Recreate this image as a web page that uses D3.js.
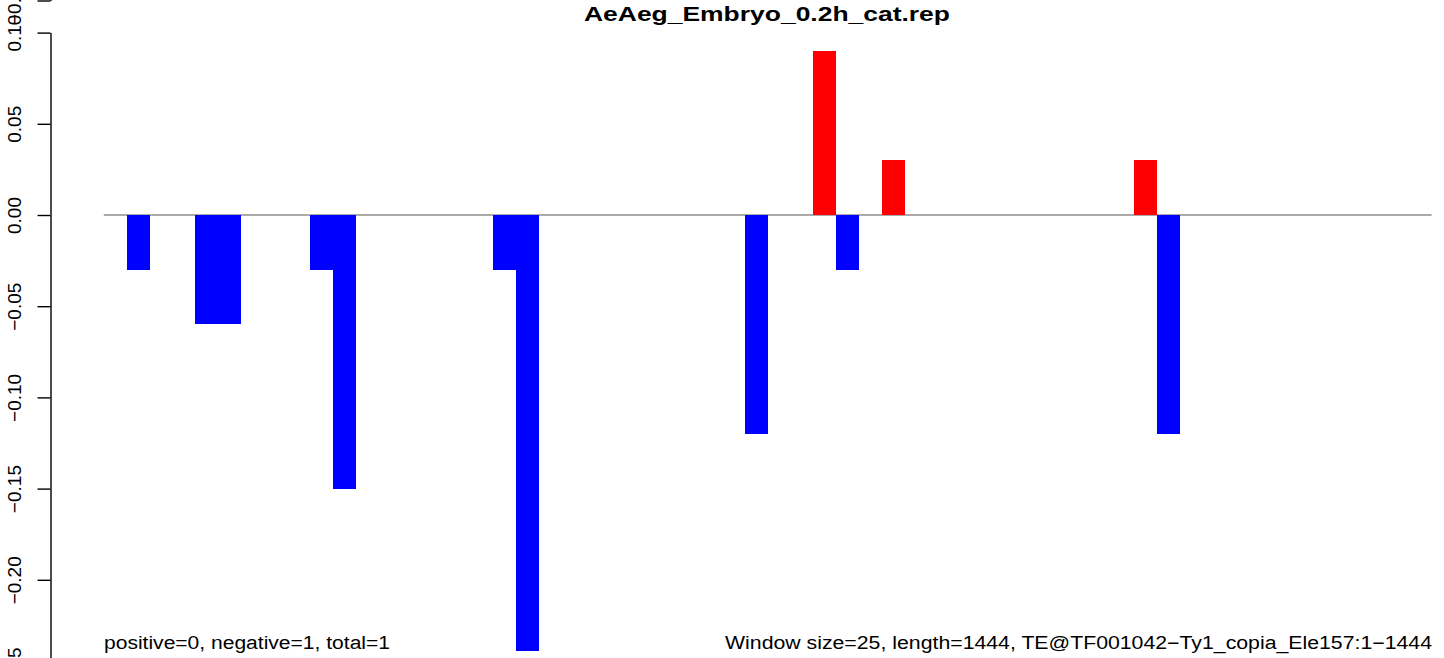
<!DOCTYPE html>
<html>
<head>
<meta charset="utf-8">
<script src="https://cdn.jsdelivr.net/npm/d3@7"></script>
<style>
  html, body { margin: 0; padding: 0; background: #fff; }
  svg { display: block; }
  text { font-family: "Liberation Sans", Arial, sans-serif; }
</style>
</head>
<body>
<svg id="chart" width="1444" height="658"></svg>
<script>
// ---- data ----
const windowStarts = [25, 100, 125, 225, 250, 425, 450, 700, 775, 800, 850, 1125, 1150];
const values       = [-0.03, -0.06, -0.06, -0.03, -0.15, -0.03, -0.239, -0.12, 0.09, -0.03, 0.03, 0.03, -0.12];
const windowSize = 25;
const seqLength = 1450;
const yTickValues = [0.10, 0.05, 0.00, -0.05, -0.10, -0.15, -0.20, -0.25];
const yTickLabels = ["0.10", "0.05", "0.00", "\u22120.05", "\u22120.10", "\u22120.15", "\u22120.20", "\u22120.25"];
const prevTickValues = [-0.25];
const prevTickLabels = ["\u22120.25"];
const titleText = "AeAeg_Embryo_0.2h_cat.rep";
const leftNote = "positive=0, negative=1, total=1";
const rightNote = "Window size=25, length=1444, TE@TF001042\u2212Ty1_copia_Ele157:1\u22121444";

// ---- layout ----
const svg = d3.select("#chart");
const x = d3.scaleLinear().domain([0, seqLength]).range([103.8, 1431.6]);
const y = d3.scaleLinear().domain([-0.25, 0.10]).range([671, 32.6]);
// fragment of the panel above (only its lowest tick shows)
const yPrev = d3.scaleLinear().domain([-0.25, 0.10]).range([0.5, 0.5 - 638.4]);

// baseline
svg.append("line")
  .attr("x1", x(0)).attr("x2", x(seqLength))
  .attr("y1", y(0)).attr("y2", y(0))
  .attr("stroke", "#8f8f8f").attr("stroke-width", 1.4);

// bars
const data = windowStarts.map((s, i) => ({ s, v: values[i] }));
svg.append("g").selectAll("rect").data(data).join("rect")
  .attr("x", d => x(d.s))
  .attr("width", d => x(d.s + windowSize) - x(d.s))
  .attr("y", d => d.v >= 0 ? y(d.v) : y(0))
  .attr("height", d => Math.abs(y(d.v) - y(0)))
  .attr("fill", d => d.v >= 0 ? "#ff0000" : "#0000ff")
  .attr("shape-rendering", "crispEdges");

// axes
function drawAxis(scale, tickVals, tickLabs) {
  const ax = d3.axisLeft(scale)
    .tickValues(tickVals)
    .tickFormat((d, i) => tickLabs[i])
    .tickSize(13)
    .tickSizeOuter(0);
  const g = svg.append("g").attr("transform", "translate(50.5,0)").call(ax);
  g.select(".domain").attr("stroke", "#000").attr("stroke-width", 1.4);
  g.selectAll(".tick line").attr("stroke", "#000").attr("stroke-width", 1.4);
  g.selectAll(".tick text")
    .attr("x", null).attr("dy", null)
    .attr("font-size", 19)
    .attr("fill", "#000")
    .attr("text-anchor", "middle")
    .attr("transform", "translate(-29.5,0) rotate(-90)");
  return g;
}
drawAxis(y, yTickValues, yTickLabels);
drawAxis(yPrev, prevTickValues, prevTickLabels);

// title
svg.append("text")
  .attr("x", 767).attr("y", 21)
  .attr("text-anchor", "middle")
  .attr("font-weight", "bold")
  .attr("font-size", 21)
  .attr("textLength", 366)
  .attr("lengthAdjust", "spacingAndGlyphs")
  .text(titleText);

// bottom notes
svg.append("text")
  .attr("x", 104).attr("y", 649)
  .attr("font-size", 18)
  .attr("textLength", 286)
  .attr("lengthAdjust", "spacingAndGlyphs")
  .text(leftNote);
svg.append("text")
  .attr("x", 1432).attr("y", 649)
  .attr("text-anchor", "end")
  .attr("font-size", 18)
  .attr("textLength", 707)
  .attr("lengthAdjust", "spacingAndGlyphs")
  .text(rightNote);
</script>
</body>
</html>
